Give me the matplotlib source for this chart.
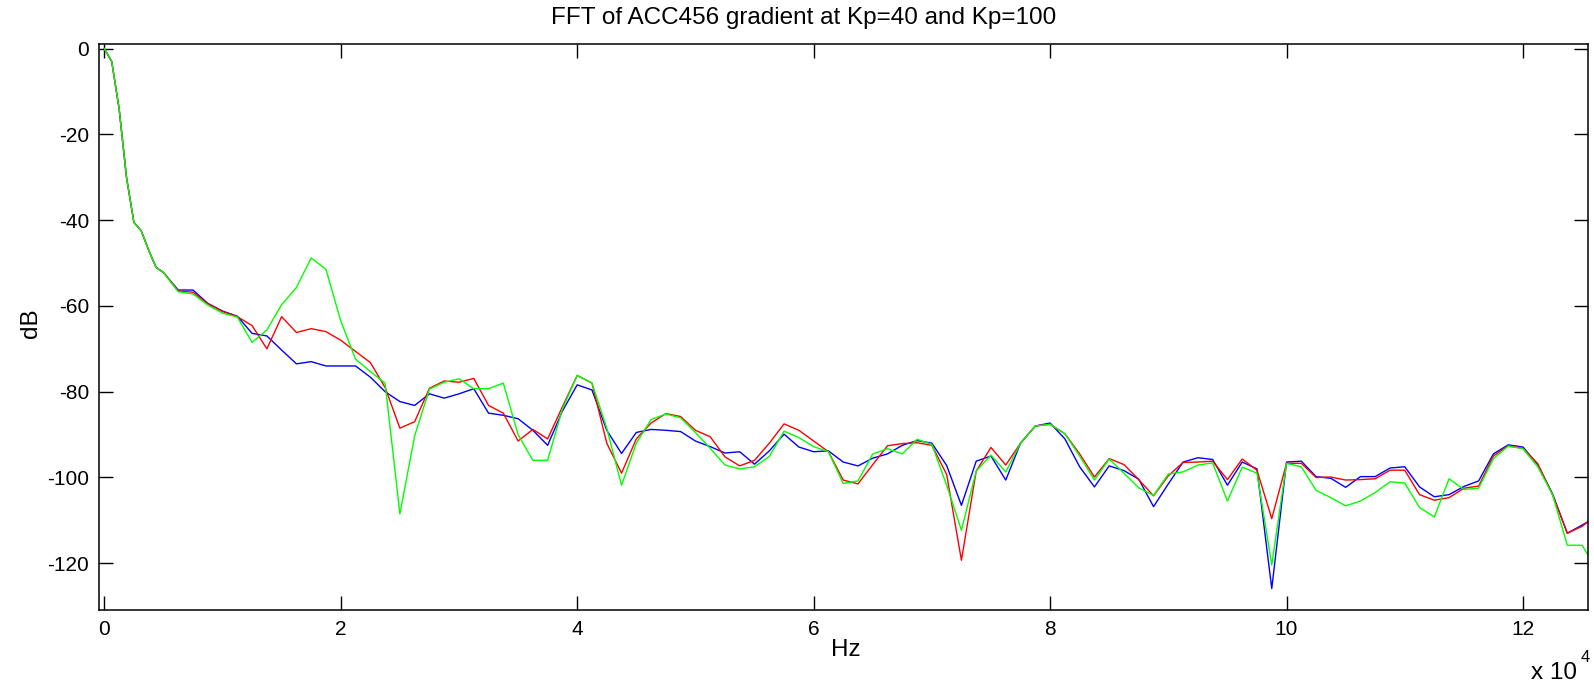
import numpy as np
import matplotlib
matplotlib.use("Agg")
from matplotlib import pyplot as plt

plt.rcParams['font.family'] = ['Liberation Sans', 'DejaVu Sans']
plt.rcParams['axes.unicode_minus'] = False

# frequency axis in units of 1e4 Hz (finer steps on the steep start)
hz = np.r_[np.arange(0, 0.5, 0.0625), np.arange(0.5, 12.51, 0.125), 12.55]

head = [0, -3, -14, -30, -40.5, -42.5, -47, -51]

green = head + [
    -52.2, -56.7, -57.2, -59.8, -61.7,
    -62.6, -68.5, -65.6, -59.7, -55.7,
    -48.8, -51.5, -63.5, -72.4, -75.3,
    -78.0, -108.5, -90.3, -79.4, -77.8,
    -77.0, -79.3, -79.3, -78.0, -90.0,
    -96.0, -96.0, -84.0, -76.2, -78.0,
    -88.5, -101.8, -92.0, -86.5, -85.2,
    -86.1, -89.5, -93.2, -97.1, -98.0,
    -97.5, -95.1, -89.2, -90.7, -92.8,
    -94.0, -101.4, -100.8, -94.5, -93.3,
    -94.5, -91.1, -92.3, -101.8, -112.3,
    -98.5, -94.8, -98.7, -92.0, -88.0,
    -87.6, -89.8, -95.0, -100.6, -95.7,
    -99.0, -102.4, -104.2, -99.2, -98.7,
    -97.1, -96.6, -105.5, -97.6, -99.0,
    -120.4, -96.7, -97.5, -103.0, -104.7,
    -106.6, -105.5, -103.5, -101.0, -101.3,
    -107.0, -109.2, -100.3, -102.8, -102.5,
    -95.6, -92.7, -93.3, -97.5, -104.0,
    -115.8, -115.8, -118.1]

red = head + [
    -52.2, -56.5, -56.8, -59.5, -61.3,
    -62.5, -64.6, -70.0, -62.5, -66.2,
    -65.3, -66.0, -68.0, -70.6, -73.2,
    -79.0, -88.5, -87.0, -79.2, -77.5,
    -77.8, -76.9, -83.2, -85.0, -91.5,
    -88.8, -91.0, -83.5, -76.2, -78.0,
    -92.0, -99.0, -91.0, -87.3, -85.1,
    -85.8, -89.0, -90.5, -95.2, -97.3,
    -96.0, -92.0, -87.5, -89.0, -91.5,
    -94.0, -100.6, -101.5, -97.0, -92.6,
    -92.1, -91.9, -92.5, -99.3, -119.3,
    -98.5, -93.0, -97.1, -92.0, -88.0,
    -87.6, -89.8, -94.5, -99.9, -95.6,
    -97.0, -100.5, -104.3, -99.6, -96.5,
    -96.4, -96.2, -100.5, -95.7, -98.3,
    -109.6, -96.7, -96.7, -100.0, -99.9,
    -100.6, -100.5, -100.3, -98.3, -98.3,
    -104.0, -105.3, -104.7, -102.5, -102.0,
    -95.0, -92.6, -93.2, -96.8, -104.0,
    -113.0, -111.4, -110.3]

blue = head + [
    -52.2, -56.3, -56.3, -59.4, -61.2,
    -62.4, -66.4, -67.0, -70.3, -73.5,
    -73.0, -74.0, -74.0, -74.0, -76.6,
    -80.0, -82.3, -83.2, -80.5, -81.5,
    -80.5, -79.3, -85.0, -85.5, -86.3,
    -89.0, -92.5, -84.5, -78.4, -79.6,
    -89.0, -94.4, -89.5, -88.8, -89.0,
    -89.3, -91.5, -92.8, -94.3, -94.0,
    -96.9, -93.8, -89.9, -92.9, -94.0,
    -93.8, -96.4, -97.3, -95.5, -94.5,
    -92.5, -91.4, -92.0, -97.2, -106.5,
    -96.2, -95.0, -100.6, -92.0, -88.0,
    -87.3, -91.0, -97.5, -102.2, -97.3,
    -98.4, -100.4, -106.8, -101.5, -96.4,
    -95.4, -95.8, -101.8, -96.4, -98.0,
    -125.9, -96.4, -96.2, -99.8, -100.2,
    -102.3, -99.8, -99.8, -97.8, -97.5,
    -102.2, -104.5, -104.0, -102.1, -100.8,
    -94.5, -92.4, -92.9, -97.0, -103.8,
    -113.0, -111.1, -110.3]

x_ticks = [0, 2, 4, 6, 8, 10, 12]
y_ticks = [-120, -100, -80, -60, -40, -20, 0]

fig = plt.figure(figsize=(15.94, 6.85), dpi=100)
ax = fig.add_axes([99 / 1594, 75 / 685, 1489 / 1594, 566 / 685])

ax.plot(hz, blue, color=(0, 0, 1), lw=1.0)
ax.plot(hz, red, color=(1, 0, 0), lw=1.0)
ax.plot(hz, green, color=(0, 1, 0), lw=1.0)

ax.set_xlim(-0.045, 12.55)
ax.set_ylim(-130.9, 1.07)
ax.set_xticks(x_ticks)
ax.set_yticks(y_ticks)
ax.tick_params(direction='in', length=10, width=1, labelsize=15, pad=7,
               top=True, right=True)
for s in ax.spines.values():
    s.set_linewidth(1.1)

fig.text(804 / 1594, 1 - 18 / 685, "FFT of ACC456 gradient at Kp=40 and Kp=100",
         ha='center', va='center', fontsize=17.5)
fig.text(846 / 1594, 1 - 650 / 685, "Hz", ha='center', va='center', fontsize=17.5)
fig.text(31 / 1594, 1 - 323 / 685, "dB", ha='center', va='center', fontsize=17.5,
         rotation=90)
fig.text(1577 / 1594, 1 - 673 / 685, "x 10", ha='right', va='center', fontsize=17.5)
fig.text(1581 / 1594, 1 - 657 / 685, "4", ha='left', va='center', fontsize=12)

fig.savefig("out.png", dpi=100)
